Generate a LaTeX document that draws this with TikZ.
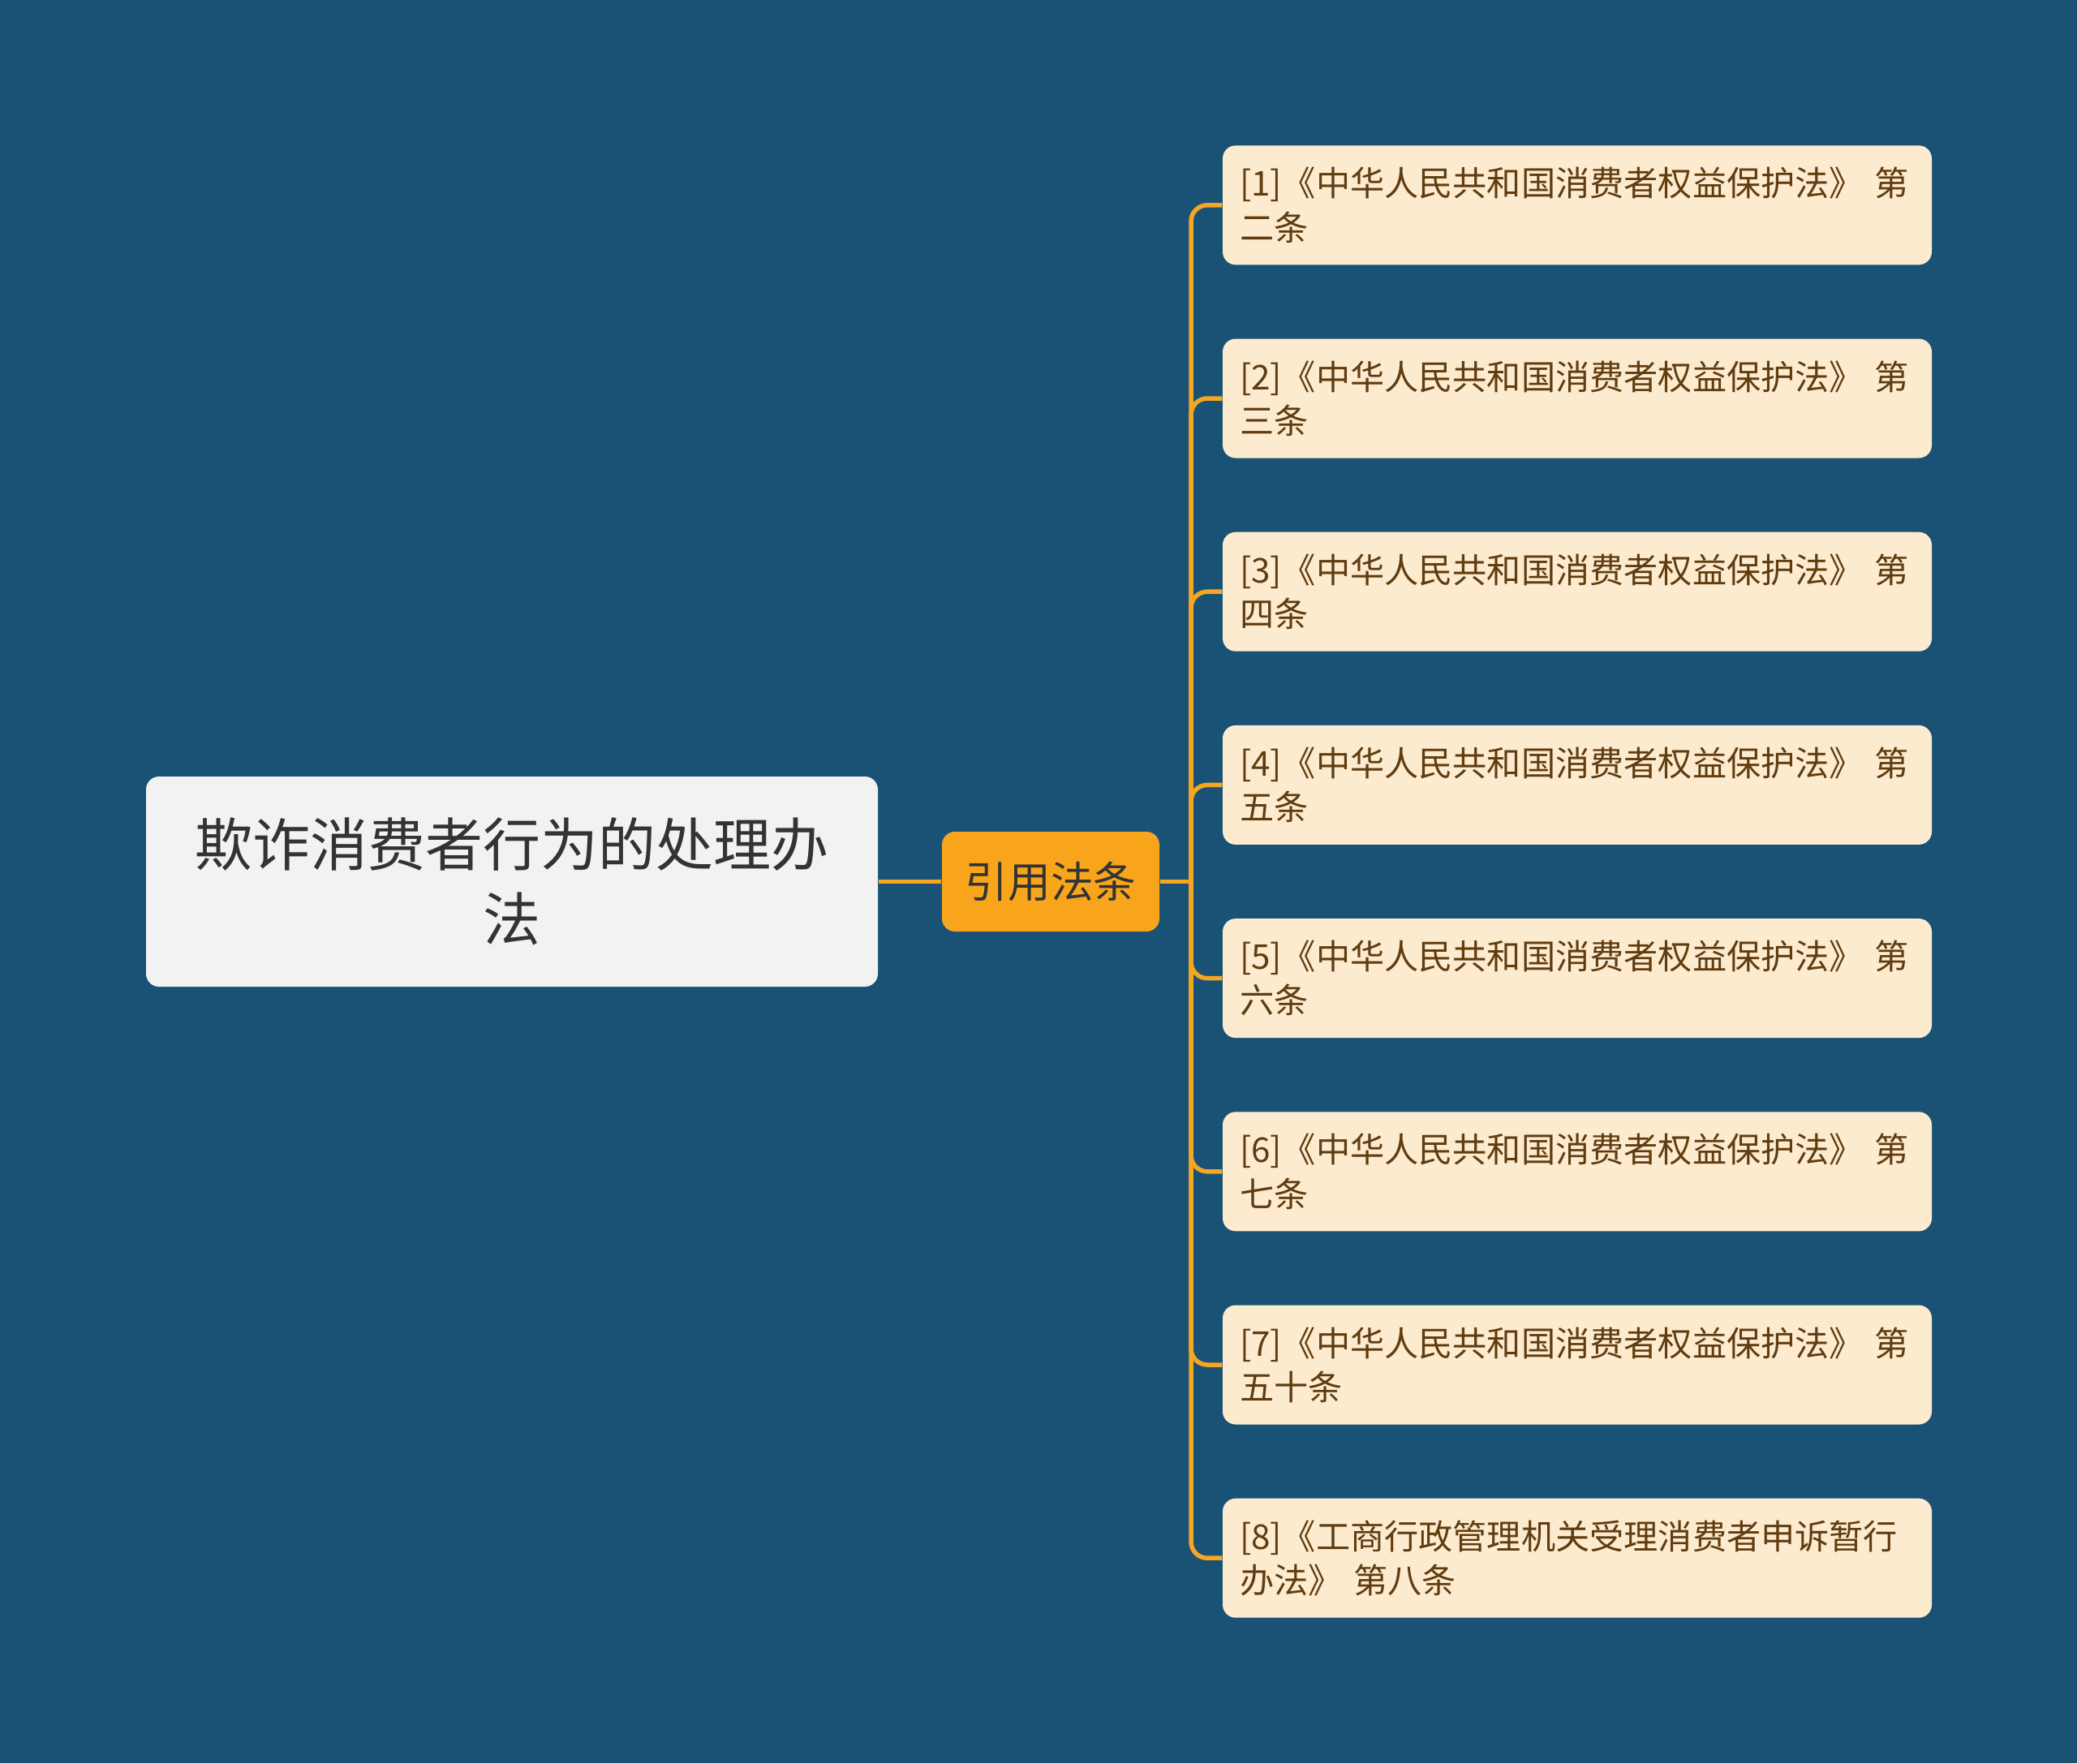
\documentclass[tikz,border=0pt]{standalone}
\usepackage{fontspec}
\usepackage{tikz}
\setmainfont{Noto Sans CJK SC}
\definecolor{bgblue}{HTML}{1A5276}
\definecolor{rootgray}{HTML}{F2F2F2}
\definecolor{midorange}{HTML}{F9A51C}
\definecolor{linkorange}{HTML}{F5A623}
\definecolor{leafcream}{HTML}{FDEBD0}
\definecolor{leafbrown}{HTML}{603C0F}
\definecolor{darktext}{HTML}{333333}

\begin{document}
\begin{tikzpicture}[
  rootbox/.style={fill=rootgray, text=darktext, rounded corners=0.16cm, minimum width=9.02cm, minimum height=2.59cm, align=center, font=\fontsize{20.2pt}{26pt}\selectfont},
  midbox/.style={fill=midorange, text=darktext, rounded corners=0.16cm, minimum width=2.68cm, minimum height=1.23cm, font=\fontsize{15pt}{18pt}\selectfont},
  leaf/.style={fill=leafcream, text=leafbrown, rounded corners=0.16cm, minimum height=1.47cm, text width=8.32cm, inner xsep=0.21cm, align=left, font=\fontsize{12pt}{15.4pt}\selectfont},
  link/.style={draw=linkorange, line width=0.055cm},
]
	\fill[bgblue] (0,0) rectangle (25.6,-21.73);
	\useasboundingbox (0,0) rectangle (25.6,-21.73);
	% root and middle topic
	\node[rootbox] (root) at (6.31,-10.865) {欺诈消费者行为的处理办\\法};
	\node[midbox] (mid) at (12.95,-10.865) {引用法条};
	\coordinate (hub) at (14.68,-10.865);
	% cited articles
	\node[leaf] (law1) at (19.44,-2.528) {[1]《中华人民共和国消费者权益保护法》 第\\二条};
	\node[leaf] (law2) at (19.44,-4.910) {[2]《中华人民共和国消费者权益保护法》 第\\三条};
	\node[leaf] (law3) at (19.44,-7.292) {[3]《中华人民共和国消费者权益保护法》 第\\四条};
	\node[leaf] (law4) at (19.44,-9.674) {[4]《中华人民共和国消费者权益保护法》 第\\五条};
	\node[leaf] (law5) at (19.44,-12.056) {[5]《中华人民共和国消费者权益保护法》 第\\六条};
	\node[leaf] (law6) at (19.44,-14.438) {[6]《中华人民共和国消费者权益保护法》 第\\七条};
	\node[leaf] (law7) at (19.44,-16.820) {[7]《中华人民共和国消费者权益保护法》 第\\五十条};
	\node[leaf] (law8) at (19.44,-19.202) {[8]《工商行政管理机关受理消费者申诉暂行\\办法》 第八条};
	% connectors
	\draw[link] (root) -- (mid);
	\draw[link] (mid) -- (hub);
	\draw[link, rounded corners=0.2cm] (hub) |- (law1.west);
	\draw[link, rounded corners=0.2cm] (hub) |- (law2.west);
	\draw[link, rounded corners=0.2cm] (hub) |- (law3.west);
	\draw[link, rounded corners=0.2cm] (hub) |- (law4.west);
	\draw[link, rounded corners=0.2cm] (hub) |- (law5.west);
	\draw[link, rounded corners=0.2cm] (hub) |- (law6.west);
	\draw[link, rounded corners=0.2cm] (hub) |- (law7.west);
	\draw[link, rounded corners=0.2cm] (hub) |- (law8.west);
\end{tikzpicture}
\end{document}
